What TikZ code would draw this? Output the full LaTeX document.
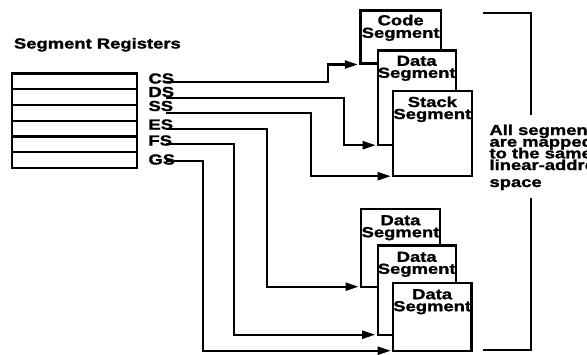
\documentclass[tikz,border=0pt]{standalone}
\usepackage{fontspec}
\setmainfont{Liberation Sans}[FakeStretch=1.27, BoldFeatures={FakeBold=1.4}]
\usetikzlibrary{arrows.meta}
\tikzset{
  lbl/.style={font=\fontsize{14.5}{14.5}\selectfont\bfseries, inner sep=0pt, outer sep=0pt},
  segbox/.style={draw, line width=2.4pt, fill=white, inner sep=0pt, outer sep=0pt, anchor=north west},
  regrow/.style={draw, line width=2.4pt, inner sep=0pt, outer sep=0pt, anchor=north west, minimum width=125pt, minimum height=15.75pt},
  conn/.style={line width=2.2pt, -{Triangle[length=13pt,width=8pt]}},
  bline/.style={line width=2.4pt},
}
\begin{document}
\begin{tikzpicture}[x=1pt,y=-1pt]
\useasboundingbox (0,0) rectangle (587,354);
\clip (0,0) rectangle (587,354);
\fill[white] (0,0) rectangle (587,354);

% title
\node[lbl, anchor=base west] (title) at (14,48.5) {Segment Registers};

% register rows
\node[regrow] (r1) at (12,73.5) {};
\node[regrow] (r2) at (12,89.25) {};
\node[regrow] (r3) at (12,105) {};
\node[regrow] (r4) at (12,120.75) {};
\node[regrow] (r5) at (12,136.5) {};
\node[regrow] (r6) at (12,152.25) {};

% register labels
\node[lbl, anchor=base west] (CS) at (148.5,83.5) {CS};
\node[lbl, anchor=base west] (DS) at (148.5,97) {DS};
\node[lbl, anchor=base west] (SS) at (148.5,111) {SS};
\node[lbl, anchor=base west] (ES) at (148.5,129.5) {ES};
\node[lbl, anchor=base west] (FS) at (148.5,145.5) {FS};
\node[lbl, anchor=base west] (GS) at (148.5,164.5) {GS};

% upper segments
\node[segbox, minimum width=80.7pt, minimum height=53.2pt] (code) at (360.3,10.3) {};
\node[lbl, anchor=base] (codet1) at ([shift={(0,15)}]code.north) {Code};
\node[lbl, anchor=base] (codet2) at ([shift={(0,27.5)}]code.north) {Segment};
\node[segbox, minimum width=78pt, minimum height=94.4pt] (data1) at (377.7,50.3) {};
\node[lbl, anchor=base] (d1t1) at ([shift={(0,15.5)}]data1.north) {Data};
\node[lbl, anchor=base] (d1t2) at ([shift={(0,27.5)}]data1.north) {Segment};
\node[segbox, minimum width=78.7pt, minimum height=84.7pt] (stack) at (393,91) {};
\node[lbl, anchor=base] (st1) at ([shift={(0,16)}]stack.north) {Stack};
\node[lbl, anchor=base] (st2) at ([shift={(0,28)}]stack.north) {Segment};

% lower segments
\node[segbox, minimum width=79pt, minimum height=78pt] (data2) at (361,208.7) {};
\node[lbl, anchor=base] (d2t1) at ([shift={(0,16.5)}]data2.north) {Data};
\node[lbl, anchor=base] (d2t2) at ([shift={(0,28.5)}]data2.north) {Segment};
\node[segbox, minimum width=78pt, minimum height=89.4pt] (data3) at (377.7,245.3) {};
\node[lbl, anchor=base] (d3t1) at ([shift={(0,16.5)}]data3.north) {Data};
\node[lbl, anchor=base] (d3t2) at ([shift={(0,28.5)}]data3.north) {Segment};
\node[segbox, minimum width=78.3pt, minimum height=68pt] (data4) at (393,282.7) {};
\node[lbl, anchor=base] (d4t1) at ([shift={(0,16.5)}]data4.north) {Data};
\node[lbl, anchor=base] (d4t2) at ([shift={(0,28.5)}]data4.north) {Segment};

% connector starts and turn columns
\coordinate (sCS) at (166,81.7);
\coordinate (sDS) at (166,97.7);
\coordinate (sSS) at (166,113.3);
\coordinate (sES) at (166,129);
\coordinate (sFS) at (166,144);
\coordinate (sGS) at (166,161);
\coordinate (kCS) at (328.3,0);
\coordinate (kDS) at (344,0);
\coordinate (kSS) at (311,0);
\coordinate (kES) at (267.3,0);
\coordinate (kFS) at (234,0);
\coordinate (kGS) at (203.3,0);

\draw[conn] (sCS) -- (sCS -| kCS) |- ([shift={(-2.5,1)}]code.south west);
\draw[conn] (sDS) -- (sDS -| kDS) |- ([shift={(-2,0.5)}]data1.south west);
\draw[conn] (sSS) -- (sSS -| kSS) |- ([shift={(-2.3,0.5)}]stack.south west);
\draw[conn] (sES) -- (sES -| kES) |- ([shift={(-2.5,0)}]data2.south west);
\draw[conn] (sFS) -- (sFS -| kFS) |- ([shift={(-2.5,0)}]data3.south west);
\draw[conn] (sGS) -- (sGS -| kGS) |- ([shift={(-2.3,0)}]data4.south west);

% bracket and its text
\coordinate (bt) at (530.7,115);
\coordinate (bb) at (530.7,198);
\draw[bline] (482.7,12.7) -- (530.7,12.7) -- (bt);
\draw[bline] (bb) -- (530.7,350) -- (482.7,350);
\node[lbl, anchor=base west] (a1) at (489.5,135) {All segments};
\node[lbl, anchor=base west] (a2) at (489.5,146.7) {are mapped};
\node[lbl, anchor=base west] (a3) at (489.5,158.3) {to the same};
\node[lbl, anchor=base west] (a4) at (489.5,170) {linear-address};
\node[lbl, anchor=base west] (a5) at (489.5,187) {space};
\end{tikzpicture}
\end{document}
